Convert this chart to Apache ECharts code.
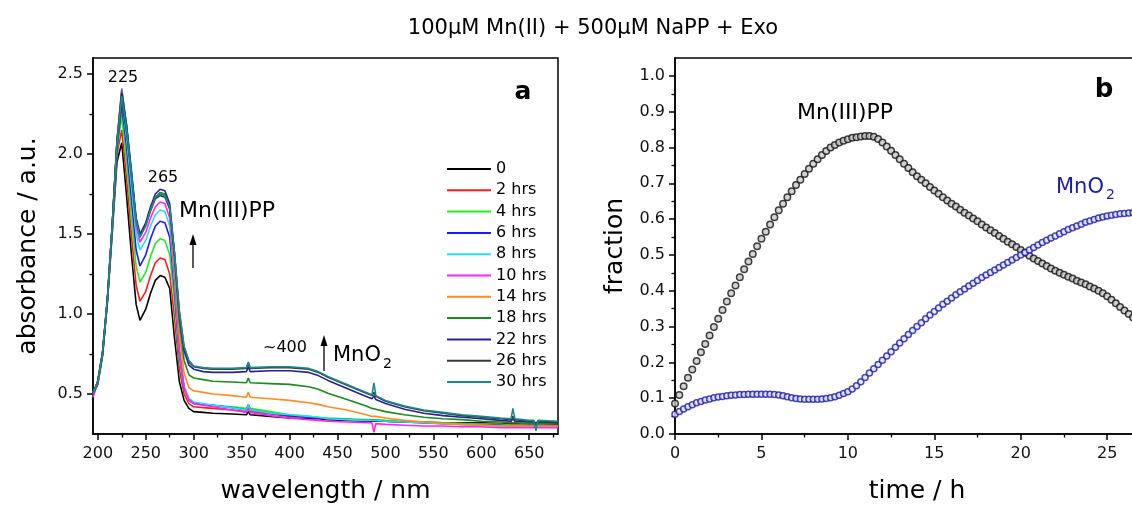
<!DOCTYPE html>
<html><head><meta charset="utf-8">
<script src="https://cdn.jsdelivr.net/npm/echarts@6/dist/echarts.min.js"></script>
<style>html,body{margin:0;padding:0;background:#fff;width:1132px;height:509px;overflow:hidden}#c{width:1164px;height:509px}</style>
</head><body><div id="c"></div>
<script>
// ---------- Panel a: UV-vis spectra ----------
const wavelength = [195,200,205,210,215,220,225,230,235,240,
  244,250,255,260,265,270,275,280,285,290,
  295,300,310,320,340,355,357,359,380,400,
  420,430,440,460,480,486,488,490,500,520,
  540,560,580,600,620,631,633,635,650,655,
  657,659,680];
const spec0h = [0.50,0.56,0.74,1.07,1.50,1.95,2.07,1.74,1.38,1.06,
  0.96,1.03,1.13,1.21,1.24,1.23,1.16,0.85,0.58,0.46,
  0.41,0.39,0.385,0.38,0.375,0.37,0.39,0.37,0.36,0.35,
  0.345,0.345,0.34,0.335,0.33,0.33,0.335,0.33,0.33,0.325,
  0.325,0.32,0.32,0.32,0.315,0.315,0.325,0.315,0.315,0.315,
  0.305,0.315,0.31];
const spec2h = [0.49,0.57,0.75,1.08,1.52,2.00,2.15,1.85,1.50,1.18,
  1.08,1.14,1.24,1.32,1.35,1.34,1.25,0.98,0.66,0.50,
  0.44,0.42,0.415,0.41,0.40,0.39,0.41,0.39,0.375,0.36,
  0.355,0.35,0.345,0.34,0.335,0.335,0.33,0.335,0.33,0.325,
  0.32,0.32,0.315,0.315,0.31,0.31,0.32,0.31,0.31,0.31,
  0.30,0.31,0.305];
const spec4h = [0.50,0.57,0.75,1.08,1.52,2.02,2.24,1.95,1.61,1.30,
  1.20,1.26,1.36,1.44,1.47,1.46,1.37,1.08,0.72,0.53,
  0.46,0.44,0.435,0.43,0.42,0.41,0.435,0.41,0.39,0.37,
  0.36,0.355,0.35,0.345,0.34,0.34,0.345,0.34,0.335,0.33,
  0.325,0.32,0.315,0.31,0.31,0.305,0.315,0.305,0.305,0.305,
  0.295,0.305,0.30];
const spec6h = [0.50,0.57,0.75,1.08,1.53,2.04,2.30,2.04,1.72,1.40,
  1.30,1.37,1.47,1.55,1.58,1.57,1.48,1.15,0.76,0.54,
  0.47,0.445,0.435,0.43,0.415,0.40,0.43,0.40,0.38,0.365,
  0.355,0.35,0.345,0.34,0.335,0.335,0.34,0.335,0.33,0.325,
  0.32,0.315,0.31,0.305,0.305,0.30,0.31,0.30,0.30,0.30,
  0.29,0.30,0.30];
const spec8h = [0.51,0.58,0.76,1.09,1.54,2.06,2.34,2.10,1.80,1.50,
  1.40,1.46,1.55,1.62,1.65,1.64,1.55,1.20,0.78,0.55,
  0.475,0.45,0.44,0.43,0.415,0.40,0.43,0.40,0.38,0.37,
  0.36,0.355,0.345,0.34,0.335,0.335,0.34,0.335,0.33,0.325,
  0.32,0.315,0.31,0.305,0.30,0.30,0.31,0.30,0.295,0.295,
  0.285,0.295,0.295];
const spec10h = [0.48,0.57,0.76,1.09,1.55,2.08,2.41,2.17,1.86,1.55,
  1.45,1.51,1.60,1.67,1.70,1.69,1.60,1.24,0.79,0.54,
  0.46,0.44,0.43,0.42,0.40,0.385,0.41,0.385,0.365,0.35,
  0.34,0.335,0.33,0.325,0.32,0.32,0.26,0.315,0.31,0.305,
  0.30,0.30,0.295,0.295,0.29,0.29,0.295,0.29,0.29,0.29,
  0.28,0.29,0.29];
const spec14h = [0.50,0.58,0.76,1.09,1.55,2.08,2.39,2.17,1.88,1.58,
  1.48,1.55,1.64,1.72,1.75,1.74,1.65,1.30,0.88,0.63,
  0.54,0.52,0.51,0.50,0.49,0.48,0.51,0.48,0.47,0.46,
  0.445,0.435,0.42,0.40,0.37,0.36,0.37,0.36,0.35,0.335,
  0.325,0.315,0.31,0.305,0.30,0.30,0.305,0.30,0.30,0.30,
  0.29,0.30,0.30];
const spec18h = [0.50,0.58,0.76,1.09,1.55,2.08,2.40,2.18,1.89,1.59,
  1.49,1.56,1.65,1.73,1.76,1.75,1.66,1.34,0.95,0.71,
  0.62,0.60,0.59,0.58,0.575,0.57,0.60,0.57,0.565,0.56,
  0.545,0.53,0.505,0.465,0.425,0.41,0.42,0.405,0.39,0.37,
  0.355,0.345,0.34,0.33,0.325,0.32,0.33,0.32,0.315,0.315,
  0.305,0.315,0.315];
const spec22h = [0.50,0.58,0.76,1.09,1.55,2.08,2.38,2.18,1.90,1.60,
  1.50,1.57,1.67,1.75,1.78,1.77,1.69,1.38,1.00,0.77,
  0.68,0.655,0.64,0.635,0.635,0.64,0.67,0.64,0.645,0.645,
  0.635,0.615,0.585,0.535,0.485,0.47,0.49,0.465,0.44,0.405,
  0.38,0.365,0.355,0.345,0.335,0.33,0.345,0.33,0.325,0.325,
  0.31,0.325,0.32];
const spec26h = [0.50,0.58,0.76,1.09,1.55,2.06,2.32,2.14,1.87,1.58,
  1.49,1.56,1.65,1.72,1.74,1.73,1.66,1.38,1.02,0.79,
  0.70,0.67,0.66,0.655,0.655,0.66,0.69,0.66,0.665,0.665,
  0.655,0.635,0.605,0.555,0.505,0.49,0.51,0.485,0.455,0.42,
  0.395,0.38,0.365,0.355,0.345,0.34,0.36,0.34,0.33,0.33,
  0.315,0.33,0.325];
const spec30h = [0.50,0.58,0.76,1.09,1.55,2.07,2.36,2.16,1.88,1.58,
  1.48,1.55,1.65,1.73,1.75,1.74,1.67,1.38,1.02,0.80,
  0.71,0.675,0.665,0.66,0.66,0.665,0.70,0.665,0.67,0.67,
  0.66,0.64,0.61,0.56,0.51,0.495,0.57,0.49,0.46,0.425,
  0.40,0.385,0.37,0.36,0.35,0.345,0.41,0.345,0.335,0.335,
  0.27,0.335,0.33];
const specLabels = ['0','2 hrs','4 hrs','6 hrs','8 hrs','10 hrs','14 hrs','18 hrs','22 hrs','26 hrs','30 hrs'];
const wlMajorTicks = [200,250,300,350,400,450,500,550,600,650];
const wlMinorTicks = [225,275,325,375,425,475,525,575,625,675];
const absMajorTicks = [0.5,1.0,1.5,2.0,2.5];
const absMinorTicks = [0.75,1.25,1.75,2.25];

// ---------- Panel b: fractions vs time ----------
const timeH = [0,0.25,0.5,0.75, 1,1.25,1.5,1.75, 2,2.25,2.5,2.75, 3,3.25,3.5,3.75,
  4,4.25,4.5,4.75, 5,5.25,5.5,5.75, 6,6.25,6.5,6.75, 7,7.25,7.5,7.75,
  8,8.25,8.5,8.75, 9,9.25,9.5,9.75, 10,10.25,10.5,10.75, 11,11.25,11.5,11.75,
  12,12.25,12.5,12.75, 13,13.25,13.5,13.75, 14,14.25,14.5,14.75, 15,15.25,15.5,15.75,
  16,16.25,16.5,16.75, 17,17.25,17.5,17.75, 18,18.25,18.5,18.75, 19,19.25,19.5,19.75,
  20,20.25,20.5,20.75, 21,21.25,21.5,21.75, 22,22.25,22.5,22.75, 23,23.25,23.5,23.75,
  24,24.25,24.5,24.75, 25,25.25,25.5,25.75, 26,26.25,26.5,26.75, 27];
const fracMnIIIPP = [0.085,0.109,0.133,0.157, 0.180,0.204,0.228,0.251, 0.275,0.299,0.322,0.346,
  0.370,0.393,0.415,0.438, 0.460,0.482,0.503,0.524, 0.545,0.565,0.585,0.605,
  0.625,0.643,0.661,0.678, 0.695,0.710,0.726,0.741, 0.755,0.767,0.779,0.790,
  0.800,0.807,0.814,0.819, 0.823,0.827,0.829,0.831, 0.832,0.832,0.830,0.824,
  0.814,0.803,0.791,0.779, 0.767,0.755,0.743,0.731, 0.720,0.710,0.700,0.690,
  0.680,0.671,0.661,0.652, 0.643,0.635,0.626,0.618, 0.610,0.602,0.594,0.585,
  0.577,0.569,0.561,0.553, 0.545,0.537,0.530,0.522, 0.514,0.506,0.498,0.490,
  0.483,0.476,0.469,0.462, 0.456,0.450,0.445,0.439, 0.434,0.428,0.423,0.418,
  0.412,0.406,0.400,0.393, 0.385,0.375,0.365,0.355, 0.345,0.335,0.325,0.317, 0.310];
const fracMnO2 = [0.055,0.063,0.070,0.076, 0.082,0.087,0.091,0.095, 0.098,0.101,0.103,0.105,
  0.107,0.108,0.109,0.110, 0.110,0.111,0.111,0.111, 0.111,0.111,0.111,0.110,
  0.109,0.107,0.104,0.101, 0.099,0.098,0.097,0.097, 0.097,0.097,0.098,0.099,
  0.101,0.104,0.108,0.113, 0.118,0.126,0.135,0.146, 0.158,0.170,0.182,0.194,
  0.206,0.218,0.230,0.242, 0.254,0.266,0.278,0.289, 0.300,0.311,0.322,0.332,
  0.342,0.352,0.362,0.371, 0.380,0.389,0.397,0.405, 0.413,0.421,0.429,0.437,
  0.444,0.451,0.458,0.465, 0.472,0.479,0.486,0.493, 0.500,0.507,0.514,0.521,
  0.528,0.535,0.541,0.547, 0.553,0.559,0.565,0.571, 0.576,0.581,0.586,0.591,
  0.595,0.599,0.603,0.606, 0.609,0.611,0.613,0.615, 0.616,0.617,0.618,0.619, 0.620];
const timeMajorTicks = [0,5,10,15,20,25];
const timeMinorTicks = [2.5,7.5,12.5,17.5,22.5,27.5];
const fracMajorTicks = [0,0.1,0.2,0.3,0.4,0.5,0.6,0.7,0.8,0.9,1.0];
const fracMinorTicks = [0.05,0.15,0.25,0.35,0.45,0.55,0.65,0.75,0.85,0.95];

// ---------- rendering ----------
const FONT = '"DejaVu Sans", "Liberation Sans", sans-serif';
const specSeriesValues = [spec0h,spec2h,spec4h,spec6h,spec8h,spec10h,spec14h,spec18h,spec22h,spec26h,spec30h];
const specColors = ['#000000','#ff1a1a','#22ee22','#1a1aff','#22e0f0','#ff22ff','#ff8c1a','#1a8c1a','#22229a','#3a3a3a','#1a8a8a'];

// The chart canvas is slightly wider than the 1132px window so that panel b is cut off at the right edge, as in the source figure.
const chart = echarts.init(document.getElementById('c'), null, {renderer:'canvas', width:1164, height:509});

function majorAxis(grid, min, max, ticks, fmt, name, gap, isY) {
  return {
    gridIndex: grid, type: 'value', min: min, max: max,
    position: isY ? 'left' : 'bottom',
    axisLine: {show: true, onZero: false, lineStyle: {color: '#000', width: 1.5}},
    axisTick: {show: true, inside: false, length: 6, customValues: ticks, lineStyle: {color: '#000', width: 1.5}},
    axisLabel: {show: true, customValues: ticks, formatter: fmt, margin: isY ? 10 : 12,
      fontSize: 16, fontFamily: FONT, color: '#111'},
    splitLine: {show: false},
    name: name, nameLocation: 'middle', nameGap: gap,
    nameTextStyle: {fontSize: 25, fontFamily: FONT, color: '#000'}
  };
}
function minorAxis(grid, min, max, ticks, isY) {
  return {
    gridIndex: grid, type: 'value', min: min, max: max,
    position: isY ? 'left' : 'bottom',
    axisLine: {show: false, onZero: false},
    axisTick: {show: true, inside: false, length: 3.5, customValues: ticks, lineStyle: {color: '#000', width: 1.3}},
    axisLabel: {show: false}, splitLine: {show: false}
  };
}
const fmt1 = v => Number(v).toFixed(1);
const fmt0 = v => String(Math.round(v));

const series = specSeriesValues.map((vals, i) => ({
  type: 'line', name: specLabels[i], xAxisIndex: 0, yAxisIndex: 0,
  data: wavelength.map((w, j) => [w, vals[j]]),
  symbol: 'none', showSymbol: false,
  lineStyle: {color: specColors[i], width: 1.6},
  itemStyle: {color: specColors[i]},
  animation: false
}));
series.push({
  type: 'scatter', name: 'Mn(III)PP', xAxisIndex: 2, yAxisIndex: 2,
  data: timeH.map((t, i) => [t, fracMnIIIPP[i]]),
  symbol: 'circle', symbolSize: 6.5,
  itemStyle: {color: '#c8c8c8', borderColor: '#111', borderWidth: 1.5},
  animation: false
});
series.push({
  type: 'scatter', name: 'MnO2', xAxisIndex: 2, yAxisIndex: 2,
  data: timeH.map((t, i) => [t, fracMnO2[i]]),
  symbol: 'circle', symbolSize: 6,
  itemStyle: {color: '#e4e4ff', borderColor: '#1c1caa', borderWidth: 1.5},
  animation: false
});

function txt(x, y, text, size, color, align, weight) {
  return {type: 'text', x: x, y: y, z: 100, silent: true,
    style: {text: text, fontSize: size, fontFamily: FONT, fontWeight: weight || 'normal',
      fill: color || '#000', align: align || 'left', verticalAlign: 'middle'}};
}
function arrow(x, yBottom, yTip) {
  return [
    {type: 'line', z: 100, silent: true, shape: {x1: x, y1: yBottom, x2: x, y2: yTip + 9}, style: {stroke: '#000', lineWidth: 1.3}},
    {type: 'polygon', z: 100, silent: true, shape: {points: [[x, yTip], [x - 3.5, yTip + 11], [x + 3.5, yTip + 11]]}, style: {fill: '#000'}}
  ];
}

const option = {
  animation: false,
  backgroundColor: '#fff',
  grid: [
    {left: 93, width: 465, top: 58, bottom: 74, show: true, borderColor: '#000', borderWidth: 1.5, backgroundColor: 'transparent'},
    {left: 675, width: 484, top: 58, bottom: 74, show: true, borderColor: '#000', borderWidth: 1.5, backgroundColor: 'transparent'}
  ],
  xAxis: [
    majorAxis(0, 195, 680, wlMajorTicks, fmt0, 'wavelength / nm', 45, false),
    minorAxis(0, 195, 680, wlMinorTicks, false),
    majorAxis(1, 0, 28, timeMajorTicks, fmt0, 'time / h', 45, false),
    minorAxis(1, 0, 28, timeMinorTicks, false)
  ],
  yAxis: [
    majorAxis(0, 0.25, 2.6, absMajorTicks, fmt1, 'absorbance / a.u.', 52, true),
    minorAxis(0, 0.25, 2.6, absMinorTicks, true),
    majorAxis(1, 0, 1.05, fracMajorTicks, fmt1, 'fraction', 47, true),
    minorAxis(1, 0, 1.05, fracMinorTicks, true)
  ],
  legend: {
    data: specLabels, orient: 'vertical', left: 442, top: 156,
    icon: 'rect', itemWidth: 44, itemHeight: 2, itemGap: 5.3,
    selectedMode: false,
    textStyle: {fontSize: 16, fontFamily: FONT, color: '#000', lineHeight: 16}
  },
  series: series,
  graphic: [
    txt(593, 29, '100\u03BCM Mn(II) + 500\u03BCM NaPP + Exo', 21, '#000', 'center'),
    txt(123, 78, '225', 16, '#000', 'center'),
    txt(163, 178, '265', 16, '#000', 'center'),
    txt(179, 211, 'Mn(III)PP', 22, '#000', 'left'),
    ...arrow(193, 268, 234),
    txt(263, 348, '~400', 16, '#000', 'left'),
    ...arrow(324, 371, 335),
    txt(333, 356, 'MnO', 21, '#000', 'left'),
    txt(383, 364, '2', 14, '#000', 'left'),
    txt(523, 92, 'a', 25, '#000', 'center', 'bold'),
    txt(797, 113, 'Mn(III)PP', 22, '#000', 'left'),
    txt(1056, 188, 'MnO', 21, '#1c1caa', 'left'),
    txt(1106, 195, '2', 14, '#1c1caa', 'left'),
    txt(1104, 90, 'b', 26, '#000', 'center', 'bold')
  ]
};
chart.setOption(option);
</script>
</body></html>
